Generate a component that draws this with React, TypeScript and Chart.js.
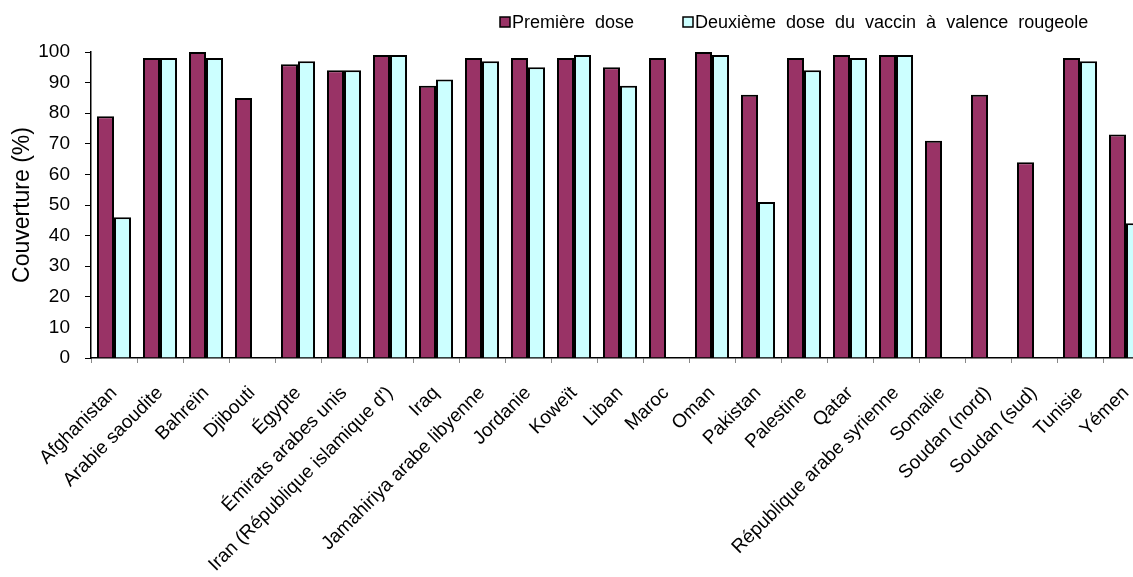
import React, { useEffect, useRef } from "react";
import { Chart, registerables } from "chart.js";

Chart.register(...registerables);

const categories: string[] = [
  "Afghanistan",
  "Arabie saoudite",
  "Bahreïn",
  "Djibouti",
  "Égypte",
  "Émirats arabes unis",
  "Iran (République islamique d')",
  "Iraq",
  "Jamahiriya arabe libyenne",
  "Jordanie",
  "Koweït",
  "Liban",
  "Maroc",
  "Oman",
  "Pakistan",
  "Palestine",
  "Qatar",
  "République arabe syrienne",
  "Somalie",
  "Soudan (nord)",
  "Soudan (sud)",
  "Tunisie",
  "Yémen",
];

const firstDose: (number | null)[] = [
  79, 98, 100, 85, 96, 94, 99, 89, 98, 98, 98, 95, 98, 100, 86, 98, 99, 99, 71, 86, 64, 98, 73,
];

const secondDose: (number | null)[] = [
  46, 98, 98, null, 97, 94, 99, 91, 97, 95, 99, 89, null, 99, 51, 94, 98, 99, null, null, null, 97, 44,
];

const seriesLabels: string[] = [
  "Première dose",
  "Deuxième dose du vaccin à valence rougeole",
];

const yTicks: number[] = [0, 10, 20, 30, 40, 50, 60, 70, 80, 90, 100];

const FONT = "'Liberation Sans', Arial, sans-serif";
const COLOR1 = "#993366";
const COLOR2 = "#CCFFFF";

const legendPlugin = {
  id: "customLegend",
  afterDraw(chart: any) {
    const ctx = chart.ctx;
    ctx.save();
    ctx.font = `18px ${FONT}`;
    try {
      (ctx as any).wordSpacing = "5px";
    } catch (e) {}
    ctx.textBaseline = "middle";
    ctx.fillStyle = "#000";
    const items = [
      { x: 500, color: COLOR1, label: seriesLabels[0] },
      { x: 683, color: COLOR2, label: seriesLabels[1] },
    ];
    const cy = 22;
    for (const it of items) {
      ctx.fillStyle = it.color;
      ctx.fillRect(it.x, cy - 5, 10, 10);
      ctx.strokeStyle = "#000";
      ctx.lineWidth = 1.5;
      ctx.strokeRect(it.x, cy - 5, 10, 10);
      ctx.fillStyle = "#000";
      ctx.textAlign = "left";
      ctx.fillText(it.label, it.x + 12, cy + 1);
    }
    ctx.restore();
  },
};

export default function App() {
  const ref = useRef<HTMLCanvasElement | null>(null);

  useEffect(() => {
    if (!ref.current) return;
    const chart = new Chart(ref.current, {
      type: "bar",
      data: {
        labels: categories,
        datasets: [
          {
            label: seriesLabels[0],
            data: firstDose,
            backgroundColor: COLOR1,
            borderColor: "#000",
            borderWidth: 2,
            categoryPercentage: 0.74,
            barPercentage: 1.0,
          },
          {
            label: seriesLabels[1],
            data: secondDose,
            backgroundColor: COLOR2,
            borderColor: "#000",
            borderWidth: 2,
            categoryPercentage: 0.74,
            barPercentage: 1.0,
          },
        ],
      },
      options: {
        responsive: false,
        animation: false,
        layout: { padding: { top: 52, right: 3, left: 0, bottom: 0 } },
        plugins: {
          legend: { display: false },
          tooltip: { enabled: false },
        },
        scales: {
          x: {
            grid: {
              display: true,
              drawOnChartArea: false,
              drawTicks: true,
              tickLength: 5,
              offset: true,
              color: "#888",
            },
            border: { display: true, color: "#000", width: 1.5 },
            ticks: {
              autoSkip: false,
              minRotation: 45,
              maxRotation: 45,
              padding: 19,
              color: "#000",
              font: { family: FONT, size: 19 },
            },
            afterFit: (scale: any) => {
              scale.height = 219;
              scale.paddingLeft = 0;
              scale.paddingRight = 0;
            },
          },
          y: {
            min: 0,
            max: 100,
            afterBuildTicks: (scale: any) => {
              scale.ticks = yTicks.map((v) => ({ value: v }));
            },
            grid: {
              display: true,
              drawOnChartArea: false,
              drawTicks: true,
              tickLength: 6,
              color: "#000",
            },
            border: { display: true, color: "#000", width: 1.5 },
            ticks: {
              padding: 15,
              color: "#000",
              font: { family: FONT, size: 19 },
            },
            title: {
              display: true,
              text: "Couverture (%)",
              color: "#000",
              padding: { top: 9, bottom: 0 },
              font: { family: FONT, size: 23 },
            },
            afterFit: (scale: any) => {
              scale.width = 91;
            },
          },
        },
      },
      plugins: [legendPlugin],
    });
    return () => chart.destroy();
  }, []);

  return (
    <div
      style={{
        position: "fixed",
        left: 0,
        top: 0,
        width: 1133,
        height: 577,
        overflow: "hidden",
        background: "#fff",
      }}
    >
      <canvas ref={ref} width={1152} height={577} style={{ display: "block" }} />
    </div>
  );
}
